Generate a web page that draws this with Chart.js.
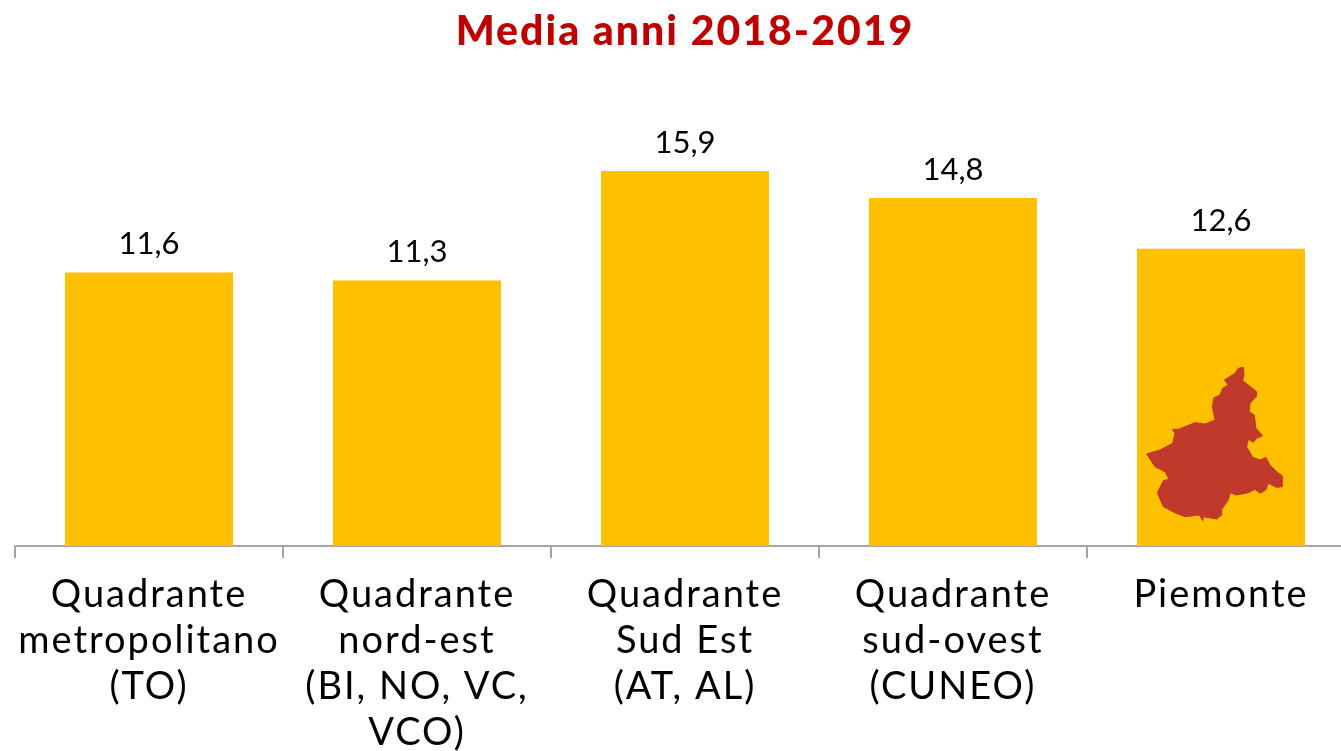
<!DOCTYPE html>
<html>
<head>
<meta charset="utf-8">
<script src="https://cdn.jsdelivr.net/npm/chart.js@4"></script>
<style>
html,body{margin:0;padding:0;background:#fff;overflow:hidden;width:1341px;height:751px}
#wrap{position:absolute;left:0;top:0;width:1370px;height:751px}
canvas{display:block}
</style>
</head>
<body>
<div id="wrap"><canvas id="c" width="1370" height="751"></canvas></div>
<script>
const categories = [
  ["Quadrante","metropolitano","(TO)"],
  ["Quadrante","nord-est","(BI, NO, VC,","VCO)"],
  ["Quadrante","Sud Est","(AT, AL)"],
  ["Quadrante","sud-ovest","(CUNEO)"],
  ["Piemonte"]
];
const values = [11.6, 11.26, 15.9, 14.76, 12.6];
const titleText = "Media anni 2018-2019";
const FONT = "Lato, 'Open Sans', sans-serif";
const SPACING = "2px";

// Decorative outline of the Piemonte region (drawn over the last bar), in 1/3 px units
const regionOutline = [[370,52],[372,75],[368,92],[385,105],[410,125],[410,138],[390,160],[388,185],[403,195],[408,235],[428,257],[410,265],[400,277],[385,268],[380,290],[398,322],[420,330],[437,322],[450,345],[470,365],[487,378],[487,410],[470,412],[445,400],[437,420],[420,430],[405,418],[385,428],[350,435],[330,428],[325,450],[305,478],[305,495],[290,507],[250,500],[248,512],[238,495],[195,500],[165,488],[130,470],[112,428],[130,392],[147,388],[135,365],[105,350],[80,312],[120,300],[158,280],[165,250],[157,238],[175,238],[225,218],[255,222],[285,210],[277,170],[282,143],[300,135],[308,115],[325,105],[313,90],[345,70],[355,55]];

const letterSpacingPlugin = {
  id: 'spacing',
  beforeDraw(chart){ chart.ctx.letterSpacing = SPACING; }
};
const overlayPlugin = {
  id: 'overlay',
  afterDatasetsDraw(chart){
    const ctx = chart.ctx, bars = chart.getDatasetMeta(0).data;
    ctx.save();
    ctx.letterSpacing = "0px";
    ctx.font = "31px " + FONT;
    ctx.fillStyle = "#000";
    ctx.textAlign = "center";
    ctx.textBaseline = "alphabetic";
    bars.forEach((b,i)=>{
      ctx.fillText(values[i].toFixed(1).replace('.',','), b.x, b.y - 18);
    });
    const last = bars[bars.length-1];
    ctx.fillStyle = "#C0392B";
    ctx.strokeStyle = "#C0392B";
    ctx.lineWidth = 1;
    ctx.lineJoin = "round";
    ctx.beginPath();
    regionOutline.forEach(([x,y],i)=>{
      const px = last.x + (x-303)/3, py = last.base + (y-588)/3;
      i ? ctx.lineTo(px,py) : ctx.moveTo(px,py);
    });
    ctx.closePath();
    ctx.fill();
    ctx.stroke();
    ctx.restore();
  }
};

new Chart(document.getElementById('c'), {
  type: 'bar',
  data: { labels: categories, datasets: [{ data: values, backgroundColor: '#FFC000', borderWidth: 0, categoryPercentage: 0.627, barPercentage: 1 }] },
  plugins: [letterSpacingPlugin, overlayPlugin],
  options: {
    responsive: false,
    animation: false,
    layout: { padding: { left: 15, right: 15, top: 0, bottom: 0 } },
    plugins: {
      legend: { display: false },
      tooltip: { enabled: false },
      title: {
        display: true, text: titleText, color: '#C00000',
        font: { family: FONT, size: 41, weight: '900', lineHeight: 1.2 },
        padding: { top: 7, bottom: 65.27 }
      }
    },
    scales: {
      y: { display: false, min: 0, max: 18 },
      x: {
        afterFit(s){ s.height = 205; },
        grid: { drawOnChartArea: false, drawTicks: true, tickLength: 12, color: '#A6A6A6', lineWidth: 2, offset: true },
        border: { display: true, color: '#A6A6A6', width: 2 },
        ticks: { color: '#000', maxRotation: 0, autoSkip: false, padding: 14,
                 font: { family: FONT, size: 38, lineHeight: 1.21 } }
      }
    }
  }
});
</script>
</body>
</html>
